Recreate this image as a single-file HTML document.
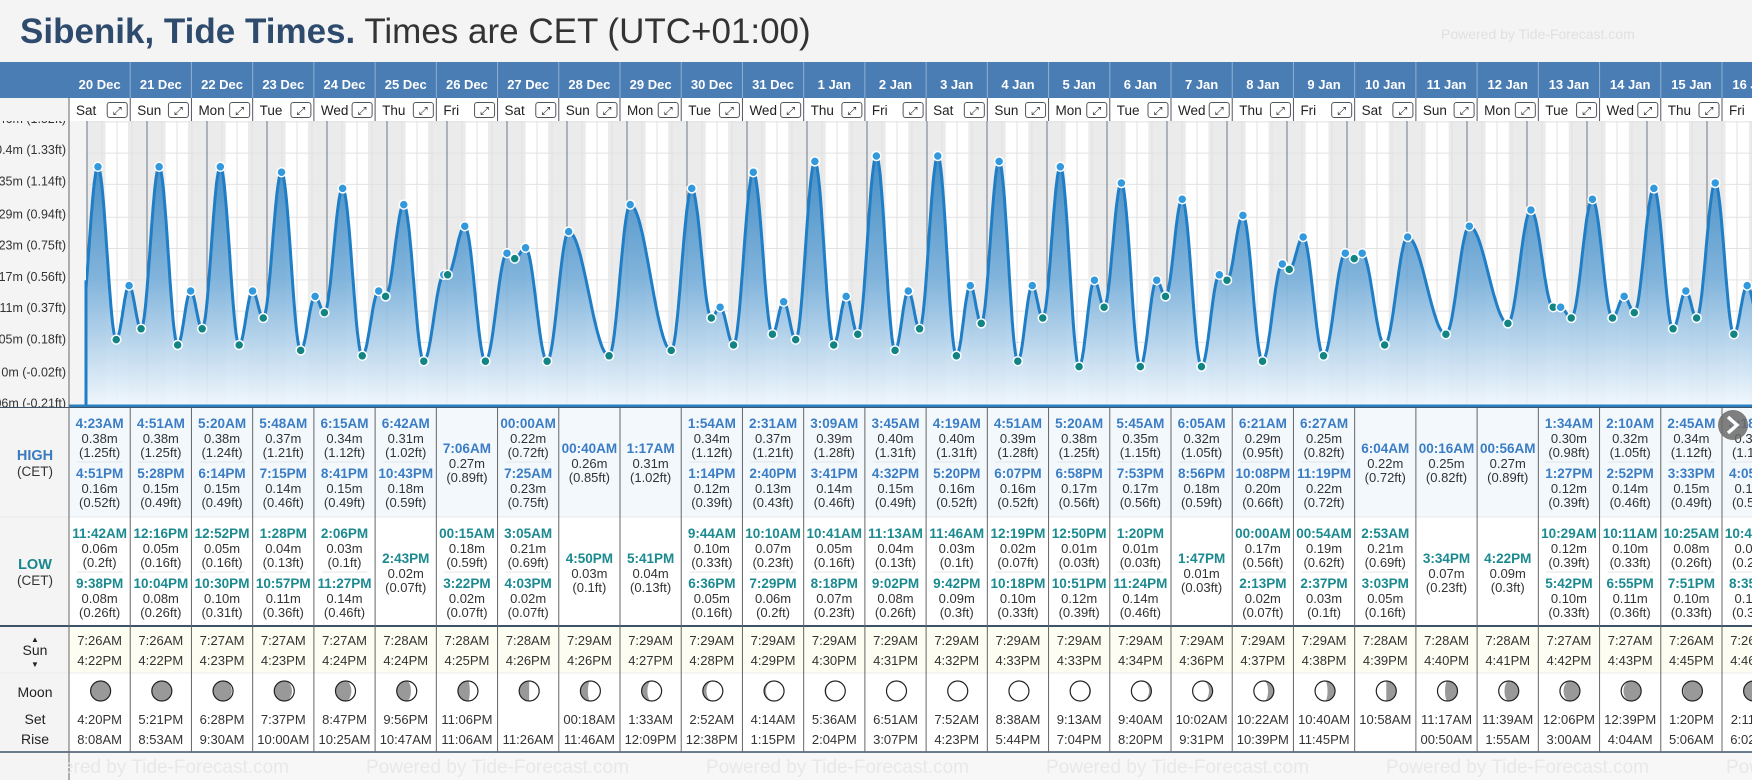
<!DOCTYPE html>
<html><head><meta charset="utf-8">
<style>
html,body{margin:0;padding:0;background:#f4f4f4;width:1752px;height:780px;overflow:hidden;font-family:"Liberation Sans",Arial,sans-serif;}
#title{position:absolute;left:20px;top:12px;font-size:35px;white-space:nowrap;}
#title b{color:#2e4b6e;}
#title span{color:#333;}
#pw{position:absolute;left:1441px;top:26px;font-size:14px;color:#e0e0e0;}
svg{position:absolute;left:0;top:0;}
</style></head>
<body>
<div id="title"><b>Sibenik, Tide Times.</b> <span>Times are CET (UTC+01:00)</span></div>
<div id="pw">Powered by Tide-Forecast.com</div>
<svg id="chart" width="1752" height="780"></svg>
<script>
const days=['20 Dec','21 Dec','22 Dec','23 Dec','24 Dec','25 Dec','26 Dec','27 Dec','28 Dec','29 Dec','30 Dec','31 Dec','1 Jan','2 Jan','3 Jan','4 Jan','5 Jan','6 Jan','7 Jan','8 Jan','9 Jan','10 Jan','11 Jan','12 Jan','13 Jan','14 Jan','15 Jan','16 Jan'];
const weekdays=['Sat','Sun','Mon','Tue','Wed','Thu','Fri','Sat','Sun','Mon','Tue','Wed','Thu','Fri','Sat','Sun','Mon','Tue','Wed','Thu','Fri','Sat','Sun','Mon','Tue','Wed','Thu','Fri'];
const highT=[['4:23AM','4:51PM'],['4:51AM','5:28PM'],['5:20AM','6:14PM'],['5:48AM','7:15PM'],['6:15AM','8:41PM'],['6:42AM','10:43PM'],['7:06AM'],['00:00AM','7:25AM'],['00:40AM'],['1:17AM'],['1:54AM','1:14PM'],['2:31AM','2:40PM'],['3:09AM','3:41PM'],['3:45AM','4:32PM'],['4:19AM','5:20PM'],['4:51AM','6:07PM'],['5:20AM','6:58PM'],['5:45AM','7:53PM'],['6:05AM','8:56PM'],['6:21AM','10:08PM'],['6:27AM','11:19PM'],['6:04AM'],['00:16AM'],['00:56AM'],['1:34AM','1:27PM'],['2:10AM','2:52PM'],['2:45AM','3:33PM'],['3:18AM','4:05PM']];
const highM=[[0.38,0.16],[0.38,0.15],[0.38,0.15],[0.37,0.14],[0.34,0.15],[0.31,0.18],[0.27],[0.22,0.23],[0.26],[0.31],[0.34,0.12],[0.37,0.13],[0.39,0.14],[0.40,0.15],[0.40,0.16],[0.39,0.16],[0.38,0.17],[0.35,0.17],[0.32,0.18],[0.29,0.20],[0.25,0.22],[0.22],[0.25],[0.27],[0.30,0.12],[0.32,0.14],[0.34,0.15],[0.35,0.16]];
const highFt=[[1.25,0.52],[1.25,0.49],[1.24,0.49],[1.21,0.46],[1.12,0.49],[1.02,0.59],[0.89],[0.72,0.75],[0.85],[1.02],[1.12,0.39],[1.21,0.43],[1.28,0.46],[1.31,0.49],[1.31,0.52],[1.28,0.52],[1.25,0.56],[1.15,0.56],[1.05,0.59],[0.95,0.66],[0.82,0.72],[0.72],[0.82],[0.89],[0.98,0.39],[1.05,0.46],[1.12,0.49],[1.15,0.52]];
const lowT=[['11:42AM','9:38PM'],['12:16PM','10:04PM'],['12:52PM','10:30PM'],['1:28PM','10:57PM'],['2:06PM','11:27PM'],['2:43PM'],['00:15AM','3:22PM'],['3:05AM','4:03PM'],['4:50PM'],['5:41PM'],['9:44AM','6:36PM'],['10:10AM','7:29PM'],['10:41AM','8:18PM'],['11:13AM','9:02PM'],['11:46AM','9:42PM'],['12:19PM','10:18PM'],['12:50PM','10:51PM'],['1:20PM','11:24PM'],['1:47PM'],['00:00AM','2:13PM'],['00:54AM','2:37PM'],['2:53AM','3:03PM'],['3:34PM'],['4:22PM'],['10:29AM','5:42PM'],['10:11AM','6:55PM'],['10:25AM','7:51PM'],['10:45AM','8:35PM']];
const lowM=[[0.06,0.08],[0.05,0.08],[0.05,0.10],[0.04,0.11],[0.03,0.14],[0.02],[0.18,0.02],[0.21,0.02],[0.03],[0.04],[0.10,0.05],[0.07,0.06],[0.05,0.07],[0.04,0.08],[0.03,0.09],[0.02,0.10],[0.01,0.12],[0.01,0.14],[0.01],[0.17,0.02],[0.19,0.03],[0.21,0.05],[0.07],[0.09],[0.12,0.10],[0.10,0.11],[0.08,0.10],[0.07,0.10]];
const lowFt=[[0.2,0.26],[0.16,0.26],[0.16,0.31],[0.13,0.36],[0.1,0.46],[0.07],[0.59,0.07],[0.69,0.07],[0.1],[0.13],[0.33,0.16],[0.23,0.2],[0.16,0.23],[0.13,0.26],[0.1,0.3],[0.07,0.33],[0.03,0.39],[0.03,0.46],[0.03],[0.56,0.07],[0.62,0.1],[0.69,0.16],[0.23],[0.3],[0.39,0.33],[0.33,0.36],[0.26,0.33],[0.23,0.33]];
const sunRise=['7:26AM','7:26AM','7:27AM','7:27AM','7:27AM','7:28AM','7:28AM','7:28AM','7:29AM','7:29AM','7:29AM','7:29AM','7:29AM','7:29AM','7:29AM','7:29AM','7:29AM','7:29AM','7:29AM','7:29AM','7:29AM','7:28AM','7:28AM','7:28AM','7:27AM','7:27AM','7:26AM','7:26AM'];
const sunSet=['4:22PM','4:22PM','4:23PM','4:23PM','4:24PM','4:24PM','4:25PM','4:26PM','4:26PM','4:27PM','4:28PM','4:29PM','4:30PM','4:31PM','4:32PM','4:33PM','4:33PM','4:34PM','4:36PM','4:37PM','4:38PM','4:39PM','4:40PM','4:41PM','4:42PM','4:43PM','4:45PM','4:46PM'];
const moonSet=['4:20PM','5:21PM','6:28PM','7:37PM','8:47PM','9:56PM','11:06PM','','00:18AM','1:33AM','2:52AM','4:14AM','5:36AM','6:51AM','7:52AM','8:38AM','9:13AM','9:40AM','10:02AM','10:22AM','10:40AM','10:58AM','11:17AM','11:39AM','12:06PM','12:39PM','1:20PM','2:11PM'];
const moonRise=['8:08AM','8:53AM','9:30AM','10:00AM','10:25AM','10:47AM','11:06AM','11:26AM','11:46AM','12:09PM','12:38PM','1:15PM','2:04PM','3:07PM','4:23PM','5:44PM','7:04PM','8:20PM','9:31PM','10:39PM','11:45PM','','00:50AM','1:55AM','3:00AM','4:04AM','5:06AM','6:02AM'];
const moonAge=[0.01,0.04,0.08,0.11,0.15,0.18,0.22,0.25,0.29,0.32,0.36,0.40,0.43,0.47,0.50,0.53,0.57,0.61,0.64,0.68,0.71,0.75,0.79,0.82,0.86,0.89,0.93,0.96];
const yTicksFt=[1.52,1.33,1.14,0.94,0.75,0.56,0.37,0.18,-0.02,-0.21];
const yTicksM=['0.46m','0.4m','0.35m','0.29m','0.23m','0.17m','0.11m','0.05m','0m','-0.06m'];
const prevLow={day:-1,time:'9:12PM',m:0.08};

const NS='http://www.w3.org/2000/svg';
const svg=document.getElementById('chart');
function mk(tag,at,parent){const e=document.createElementNS(NS,tag);for(const k in at)e.setAttribute(k,at[k]);(parent||svg).appendChild(e);return e;}
function txt(s,at,parent){const e=mk('text',at,parent);e.textContent=s;return e;}
function pt(s){const m=s.match(/(\d+):(\d+)(AM|PM)/);let h=(+m[1])%12;if(m[3]==='PM')h+=12;return h+(+m[2])/60;}
const CT=121,CB=406,X0=87,DW=60;
const xT=(d,h)=>X0+(d+h/24)*DW;
const yM=m=>372-540*m;
const yFt=f=>yM(f/3.2808);
const COLL=69,COLW=(1722-69)/27;
const cx=i=>COLL+i*COLW;

const defs=mk('defs',{});
const lg=mk('linearGradient',{id:'fillg',x1:0,y1:150,x2:0,y2:406,gradientUnits:'userSpaceOnUse'},defs);
mk('stop',{offset:0,'stop-color':'#3584c0'},lg);
mk('stop',{offset:0.5,'stop-color':'#78afda'},lg);
mk('stop',{offset:1,'stop-color':'#f0f7fd'},lg);
const cp=mk('clipPath',{id:'cclip'},defs);
mk('rect',{x:70,y:CT,width:1682,height:CB-CT},cp);

const headBand=mk('rect',{x:0,y:62,width:1752,height:36,fill:'#4a7db3'});


const dayRow=mk('rect',{x:69,y:98,width:1683,height:23,fill:'#fff'});



const plot=mk('g',{'clip-path':'url(#cclip)'});


mk('rect',{x:69,y:CT,width:1683,height:CB-CT,fill:'#ebebeb'},plot);
for(let d=0;d<days.length;d++){
  const r=mk('rect',{x:xT(d,pt(sunRise[d])),y:CT,width:xT(d,pt(sunSet[d]))-xT(d,pt(sunRise[d])),height:CB-CT,fill:'#fff'},plot);
  
  
}
yTicksFt.forEach(f=>{mk('line',{x1:69,x2:1752,y1:yFt(f),y2:yFt(f),stroke:'#e2e2e2','stroke-width':1},plot);});
for(let d=-1;d<days.length;d++){
  [6,12,18].forEach(h=>mk('line',{x1:xT(d,h),x2:xT(d,h),y1:CT,y2:CB,stroke:'#e0e0e0','stroke-width':1},plot));
  const ml=mk('line',{x1:xT(d,0),x2:xT(d,0),y1:CT,y2:CB,stroke:'#6b7a89','stroke-width':1},plot);
  
  
}
const ev=[{x:xT(prevLow.day,pt(prevLow.time)),m:prevLow.m,t:'L',skip:true}];
for(let d=0;d<days.length;d++){
  highT[d].forEach((s,k)=>ev.push({x:xT(d,pt(s)),m:highM[d][k],t:'H'}));
  lowT[d].forEach((s,k)=>ev.push({x:xT(d,pt(s)),m:lowM[d][k],t:'L'}));
}
ev.sort((a,b)=>a.x-b.x);
let pts=[];
for(let i=0;i<ev.length-1;i++){
  const a=ev[i],b=ev[i+1];
  for(let s=0;s<24;s++){const f=s/24;const v=a.m+(b.m-a.m)*(1-Math.cos(Math.PI*f))/2;pts.push([a.x+(b.x-a.x)*f,yM(v)]);}
}
pts.push([ev[ev.length-1].x,yM(ev[ev.length-1].m)]);
pts=pts.filter(p=>p[0]>=83);
const lineD='M'+pts.map(p=>p[0].toFixed(1)+','+p[1].toFixed(1)).join('L');
const area=mk('path',{d:lineD+'L'+pts[pts.length-1][0]+','+CB+'L'+pts[0][0]+','+CB+'Z',fill:'url(#fillg)','fill-opacity':0.92},plot);


const tl=mk('path',{d:lineD,fill:'none',stroke:'#1f7ec6','stroke-width':3,'stroke-linejoin':'round'},plot);


ev.forEach(e=>{if(e.skip)return;
  const c=mk('circle',{cx:e.x,cy:yM(e.m),r:4.5,fill:e.t==='H'?'#3399dd':'#128484',stroke:'#fff','stroke-width':1.5},plot);
  
  
});
mk('rect',{x:69,y:CT,width:17,height:CB-CT,fill:'#f4f4f4'},plot);
mk('line',{x1:86,x2:86,y1:yM(0.17),y2:CB,stroke:'#1f7ec6','stroke-width':3},plot);

mk('rect',{x:0,y:98,width:69,height:308,fill:'#f4f4f4'});
const yax=mk('g',{'font-size':12.5,fill:'#333','text-anchor':'end'});


yTicksFt.forEach((f,i)=>{
  const t=txt(yTicksM[i]+' ('+f+'ft)',{x:66,y:yFt(f)+1},yax);
  
  
});
mk('rect',{x:0,y:62,width:1752,height:36,fill:'#4a7db3'});
mk('rect',{x:0,y:98,width:69,height:23,fill:'#f4f4f4'});
mk('rect',{x:69,y:98,width:1683,height:23,fill:'#fff'});
mk('line',{x1:69,x2:1752,y1:CB,y2:CB,stroke:'#2a7fc0','stroke-width':3});
mk('line',{x1:0,x2:1752,y1:CB+1.5,y2:CB+1.5,stroke:'#3f5368','stroke-width':1});

mk('rect',{x:0,y:408,width:1752,height:344,fill:'#fff'});
mk('rect',{x:69,y:408,width:1683,height:109,fill:'#f3f8fd'});
mk('rect',{x:69,y:627,width:1683,height:46,fill:'#fdfdf1'});
mk('rect',{x:0,y:408,width:69,height:344,fill:'#f4f4f4'});
mk('line',{x1:0,x2:1752,y1:517,y2:517,stroke:'#e4e8ec'});
mk('line',{x1:0,x2:1752,y1:626,y2:626,stroke:'#3f5368','stroke-width':2});
mk('line',{x1:0,x2:1752,y1:673,y2:673,stroke:'#ececec'});
mk('line',{x1:0,x2:1752,y1:752,y2:752,stroke:'#3f5368','stroke-width':1.5});
mk('rect',{x:0,y:753,width:1752,height:27,fill:'#f7f7f7'});
mk('line',{x1:69,x2:69,y1:98,y2:780,stroke:'#666','stroke-width':1});

const lab=mk('g',{'text-anchor':'middle'});


let t;
t=txt('HIGH',{x:35,y:460,'font-size':14.5,'font-weight':'bold',fill:'#3a7bbf'},lab);
txt('(CET)',{x:35,y:476,'font-size':13.5,fill:'#333'},lab);
t=txt('LOW',{x:35,y:569,'font-size':14.5,'font-weight':'bold',fill:'#17868c'},lab);
txt('(CET)',{x:35,y:585,'font-size':13.5,fill:'#333'},lab);
txt('▲',{x:35,y:642,'font-size':8,fill:'#222'},lab);
t=txt('Sun',{x:35,y:655,'font-size':14,fill:'#222'},lab);
txt('▼',{x:35,y:667,'font-size':8,fill:'#222'},lab);
t=txt('Moon',{x:35,y:697,'font-size':14,fill:'#222'},lab);
txt('Set',{x:35,y:724,'font-size':14,fill:'#222'},lab);
txt('Rise',{x:35,y:744,'font-size':14,fill:'#222'},lab);

function entries(g,times,ms,fts,top,color){
  const n=times.length;
  const blocks=n===2?[top+16,top+66]:[top+41];
  times.forEach((s,k)=>{
    const by=blocks[k];const c=g.dataset.cx*1;
    const tt=txt(s,{x:c,y:by+5,'font-size':13.5,'font-weight':'bold',fill:color},g);
    
    
    txt(ms[k].toFixed(2)+'m',{x:c,y:by+20,'font-size':13,fill:'#333'},g);
    txt('('+fts[k]+'ft)',{x:c,y:by+34,'font-size':13,fill:'#333'},g);
  });
  if(n===2){mk('line',{x1:g.dataset.l*1+8,x2:g.dataset.l*1+COLW-8,y1:top+55,y2:top+55,stroke:'#e3e6ea'},g);}
}
function moon(g,x,y,age){
  const r=10;
  mk('circle',{cx:x,cy:y,r:r,fill:'#999'},g);
  const rx=Math.abs(Math.cos(2*Math.PI*age))*r;
  let d;
  if(age<0.5){const sw=age<0.25?0:1;d=`M${x},${y-r}A${r},${r} 0 0 1 ${x},${y+r}A${rx},${r} 0 0 ${sw} ${x},${y-r}Z`;}
  else{const sw=age<0.75?0:1;d=`M${x},${y-r}A${r},${r} 0 0 0 ${x},${y+r}A${rx},${r} 0 0 ${sw} ${x},${y-r}Z`;}
  mk('path',{d:d,fill:'#fff'},g);
  mk('circle',{cx:x,cy:y,r:r,fill:'none',stroke:'#222','stroke-width':1.2},g);
}
for(let i=0;i<days.length;i++){
  const l=cx(i),c=l+COLW/2;
  const g=mk('g',{'text-anchor':'middle'});
  
  
  g.dataset.cx=c;g.dataset.l=l;
  mk('line',{x1:l+COLW,x2:l+COLW,y1:62,y2:98,stroke:'#8fb0d3'},g);
  mk('line',{x1:l+COLW,x2:l+COLW,y1:98,y2:121,stroke:'#556'},g);
  mk('line',{x1:l+COLW,x2:l+COLW,y1:408,y2:752,stroke:'#666'},g);
  const dt=txt(days[i],{x:c,y:89,'font-size':13,'font-weight':'bold',fill:'#fff'},g);
  
  
  const wd=txt(weekdays[i],{x:l+7,y:115,'font-size':13.5,fill:'#222','text-anchor':'start'},g);
  
  
  const ex=mk('g',{},g);
  
  
  mk('rect',{x:l+COLW-23,y:102.5,width:20,height:15,rx:2.5,fill:'#fff',stroke:'#555','stroke-width':1},ex);
  txt('⤢',{x:l+COLW-13,y:114.5,'font-size':11,fill:'#222'},ex);
  entries(g,highT[i],highM[i],highFt[i],407,'#3b7dc4');
  entries(g,lowT[i],lowM[i],lowFt[i],517,'#1b8a90');
  const sr=txt(sunRise[i],{x:c,y:645,'font-size':13,fill:'#333'},g);
  
  
  const ss=txt(sunSet[i],{x:c,y:665,'font-size':13,fill:'#333'},g);
  
  
  const mg=mk('g',{},g);
  
  
  moon(mg,c+1,691,moonAge[i]);
  const mset=txt(moonSet[i],{x:c,y:724,'font-size':13,fill:'#333'},g);
  
  
  const mr=txt(moonRise[i],{x:c,y:744,'font-size':13,fill:'#333'},g);
  
  
}
for(let k=0;k<6;k++){
  const w=txt('Powered by Tide-Forecast.com',{x:26+k*340,y:773,'font-size':19,fill:'#e8e8e8'});
  
  
}
mk('rect',{x:0,y:753,width:68.5,height:27,fill:'#f4f4f4'});
const nb=mk('g',{});


mk('circle',{cx:1733,cy:425,r:15,fill:'#6a6a6a','fill-opacity':0.85},nb);
mk('path',{d:'M1728,417L1737,425L1728,433',fill:'none',stroke:'#fff','stroke-width':3.5},nb);
</script>
</body></html>
